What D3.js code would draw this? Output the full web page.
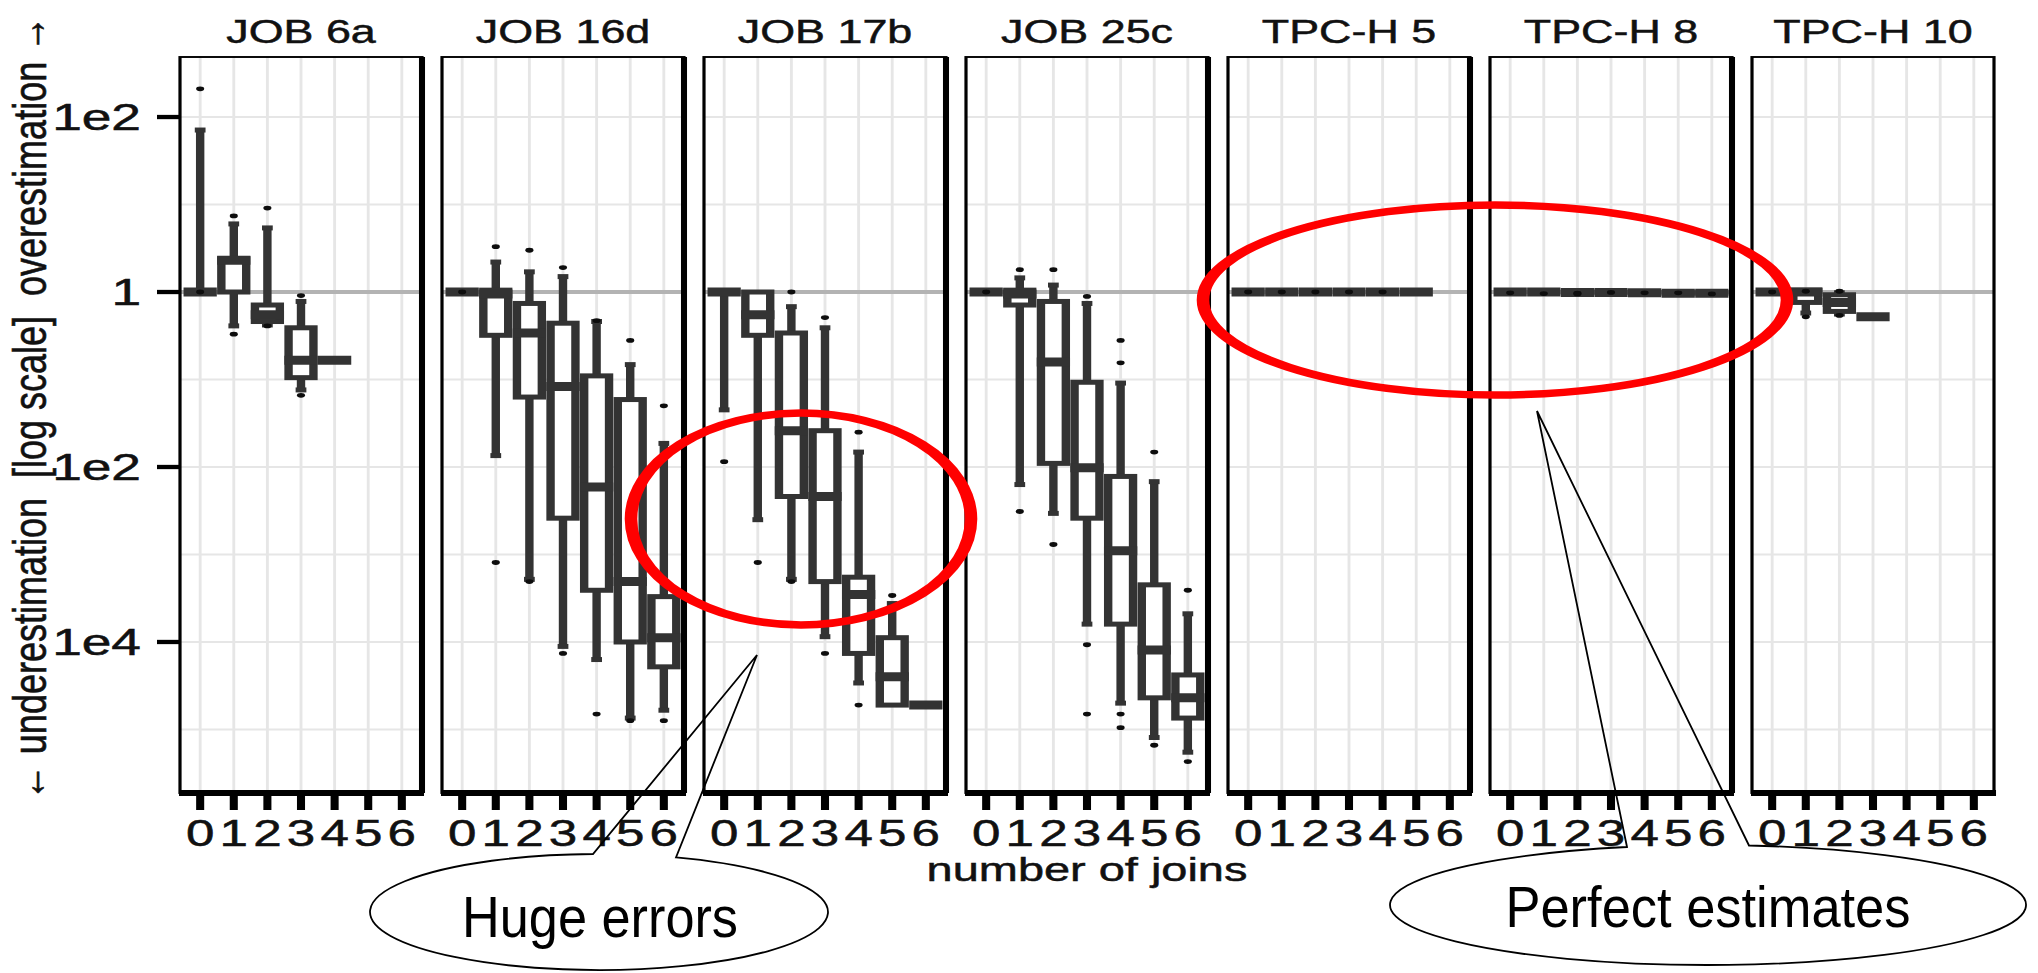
<!DOCTYPE html>
<html>
<head>
<meta charset="utf-8">
<script src="https://cdn.jsdelivr.net/npm/d3@7"></script>
<style>
  html, body { margin: 0; padding: 0; background: #fff; }
  svg { display: block; }
  text { font-family: "Liberation Sans", Arial, Helvetica, sans-serif; }
  .chart-text { fill: #111; stroke: #111; stroke-width: 0.5px; white-space: pre; }
</style>
</head>
<body>
<svg id="chart" width="2038" height="973"></svg>
<script>
// ---- data -------------------------------------------------------------
const queries = ["JOB 6a", "JOB 16d", "JOB 17b", "JOB 25c", "TPC-H 5", "TPC-H 8", "TPC-H 10"];
const joinCounts = [0, 1, 2, 3, 4, 5, 6];
const yTickValues = [1e2, 1, 1e-2, 1e-4];
const yTickLabels = ["1e2", "1", "1e2", "1e4"];
const gridValues = [1e2, 1e1, 1, 1e-1, 1e-2, 1e-3, 1e-4, 1e-5];

// box statistics of estimate / true cardinality:
// [joins, lower whisker, q1, median, q3, upper whisker]
const boxesJob6a = [
  [0, 1, 1, 1, 1, 71],
  [1, 0.41, 1.0, 2.3, 2.4, 6.0],
  [2, 0.42, 0.46, 0.55, 0.71, 5.4],
  [3, 0.076, 0.105, 0.166, 0.39, 0.78],
  [4, 0.166, 0.166, 0.166, 0.166, 0.166]
];
const boxesJob16d = [
  [0, 1, 1, 1, 1, 1],
  [1, 0.0135, 0.32, 0.95, 1.05, 2.2],
  [2, 5.2e-4, 0.063, 0.34, 0.74, 1.7],
  [3, 8.9e-5, 2.6e-3, 0.083, 0.44, 1.5],
  [4, 6.3e-5, 3.9e-4, 5.9e-3, 0.11, 0.46],
  [5, 1.35e-5, 1e-4, 4.9e-4, 0.059, 0.148],
  [6, 1.66e-5, 5.2e-5, 1.12e-4, 3.3e-4, 0.0186]
];
const boxesJob17b = [
  [0, 0.045, 1, 1, 1, 1],
  [1, 2.5e-3, 0.32, 0.55, 1, 1],
  [2, 5.2e-4, 4.6e-3, 0.026, 0.34, 0.68],
  [3, 1.15e-4, 4.9e-4, 4.6e-3, 0.026, 0.39],
  [4, 3.4e-5, 7.4e-5, 3.5e-4, 5.5e-4, 0.0148],
  [5, 1.9e-5, 1.9e-5, 4e-5, 1.12e-4, 2.75e-4],
  [6, 1.9e-5, 1.9e-5, 1.9e-5, 1.9e-5, 1.9e-5]
];
const boxesJob25c = [
  [0, 1, 1, 1, 1, 1],
  [1, 6.3e-3, 0.71, 0.95, 1.05, 1.45],
  [2, 2.95e-3, 0.011, 0.158, 0.78, 1.2],
  [3, 1.6e-4, 2.6e-3, 9.8e-3, 0.093, 0.74],
  [4, 2e-5, 1.6e-4, 1.1e-3, 7.8e-3, 0.091],
  [5, 8.1e-6, 2.3e-5, 8.1e-5, 4.5e-4, 6.8e-3],
  [6, 5.5e-6, 1.35e-5, 2.3e-5, 4.2e-5, 2.1e-4]
];
const boxesTpch5 = [
  [0, 1, 1, 1, 1, 1],
  [1, 1, 1, 1, 1, 1],
  [2, 1, 1, 1, 1, 1],
  [3, 1, 1, 1, 1, 1],
  [4, 1, 1, 1, 1, 1],
  [5, 1, 1, 1, 1, 1]
];
const boxesTpch8 = [
  [0, 1, 1, 1, 1, 1],
  [1, 1, 1, 1, 1, 1],
  [2, 0.99, 0.99, 0.99, 1, 1],
  [3, 0.99, 0.99, 0.99, 1, 1],
  [4, 0.98, 0.98, 0.98, 0.99, 0.99],
  [5, 0.97, 0.97, 0.97, 0.98, 0.98],
  [6, 0.97, 0.97, 0.97, 0.98, 0.98]
];
const boxesTpch10 = [
  [0, 1, 1, 1, 1, 1],
  [1, 0.575, 0.76, 1.0, 1.05, 1.05],
  [2, 0.56, 0.6, 0.76, 0.93, 0.98],
  [3, 0.52, 0.52, 0.52, 0.52, 0.52]
];

// extreme single estimates drawn as points: [joins, value]
const pointsJob6a = [[0, 210], [0, 1], [1, 7.4], [1, 0.33], [2, 9.1], [2, 0.41], [3, 0.91], [3, 0.066]];
const pointsJob16d = [[0, 1], [1, 3.3], [1, 8.1e-4], [2, 3.0], [2, 4.9e-4], [3, 1.9], [3, 7.4e-5],
  [4, 0.47], [4, 1.5e-5], [5, 0.28], [5, 1.26e-5], [6, 0.05], [6, 1.26e-5]];
const pointsJob17b = [[0, 0.0115], [1, 8.1e-4], [2, 1.0], [2, 4.9e-4], [3, 0.51], [3, 7.4e-5],
  [4, 0.025], [4, 1.9e-5], [5, 3.4e-4]];
const pointsJob25c = [[0, 1], [1, 1.8], [1, 3.1e-3], [2, 1.8], [2, 1.3e-3], [3, 0.89], [3, 9.3e-5],
  [3, 1.5e-5], [4, 0.28], [4, 0.155], [4, 1.5e-5], [4, 1.05e-5], [5, 0.0148], [5, 6.6e-6],
  [6, 3.9e-4], [6, 4.3e-6]];
const pointsTpch5 = [[0, 1], [1, 1], [2, 1], [3, 1], [4, 1]];
const pointsTpch8 = [[0, 0.98], [1, 0.96], [2, 0.97], [2, 0.95], [3, 0.99], [4, 0.98], [5, 0.98], [6, 0.95]];
const pointsTpch10 = [[0, 1], [1, 1.02], [1, 0.52], [2, 1.02], [2, 0.54]];

const boxSets = [boxesJob6a, boxesJob16d, boxesJob17b, boxesJob25c, boxesTpch5, boxesTpch8, boxesTpch10];
const pointSets = [pointsJob6a, pointsJob16d, pointsJob17b, pointsJob25c, pointsTpch5, pointsTpch8, pointsTpch10];

// ---- layout -----------------------------------------------------------
// Marks are drawn in a narrow frame and stretched horizontally by SX;
// text gets its own, milder horizontal stretch.
const SX = 1.68;
const nx = v => v / SX;
const panelTop = 57, panelBottom = 793;
const panelX0 = nx(180), panelW = nx(242), panelStep = nx(262);
const ink = "#333333";

const svg = d3.select("#chart");
const plot = svg.append("g").attr("transform", `scale(${SX},1)`);
const labels = svg.append("g");

// text placed at display coordinates, stretched around its anchor
function label(xDisp, yDisp, str, opts = {}) {
  const rot = opts.rotate ? ` rotate(${opts.rotate})` : "";
  return labels.append("text")
    .attr("class", "chart-text")
    .attr("transform", `translate(${xDisp},${yDisp}) scale(${opts.sx || 1.38},1)${rot}`)
    .attr("text-anchor", opts.anchor || "middle")
    .attr("dy", opts.dy || null)
    .attr("font-size", opts.size || 34)
    .text(str);
}

const y = d3.scaleLog()
  .domain([Math.pow(10, 2.686), Math.pow(10, -5.726)])
  .range([panelTop, panelBottom]);

queries.forEach((q, i) => {
  const left = panelX0 + i * panelStep;
  const x = d3.scaleLinear().domain([-0.6, 6.6]).range([left, left + panelW]);
  const unit = x(1) - x(0);
  const bw = unit * 0.74;
  const p = plot.append("g").attr("class", "panel");

  // grid
  p.selectAll("line.hgrid").data(gridValues).join("line")
    .attr("class", "hgrid")
    .attr("x1", left).attr("x2", left + panelW)
    .attr("y1", d => y(d)).attr("y2", d => y(d))
    .attr("stroke", "#e6e6e6").attr("stroke-width", 1.9);
  p.selectAll("line.vgrid").data(joinCounts).join("line")
    .attr("class", "vgrid")
    .attr("x1", d => x(d)).attr("x2", d => x(d))
    .attr("y1", panelTop).attr("y2", panelBottom)
    .attr("stroke", "#e6e6e6").attr("stroke-width", 1.7);

  // reference line at a perfect estimate
  p.append("line")
    .attr("x1", left).attr("x2", left + panelW)
    .attr("y1", y(1)).attr("y2", y(1))
    .attr("stroke", "#b3b3b3").attr("stroke-width", 4);

  const rows = boxSets[i].map(r => ({ j: r[0], lo: r[1], q1: r[2], med: r[3], q3: r[4], hi: r[5] }));

  // whiskers
  p.selectAll("line.wup").data(rows.filter(d => d.hi > d.q3)).join("line")
    .attr("class", "wup")
    .attr("x1", d => x(d.j)).attr("x2", d => x(d.j))
    .attr("y1", d => y(d.hi)).attr("y2", d => y(d.q3))
    .attr("stroke", ink).attr("stroke-width", 5);
  p.selectAll("line.wlo").data(rows.filter(d => d.lo < d.q1)).join("line")
    .attr("class", "wlo")
    .attr("x1", d => x(d.j)).attr("x2", d => x(d.j))
    .attr("y1", d => y(d.q1)).attr("y2", d => y(d.lo))
    .attr("stroke", ink).attr("stroke-width", 5);

  // whisker caps
  const caps = [];
  rows.forEach(d => {
    if (d.hi > d.q3) caps.push({ j: d.j, v: d.hi });
    if (d.lo < d.q1) caps.push({ j: d.j, v: d.lo });
  });
  p.selectAll("line.cap").data(caps).join("line")
    .attr("class", "cap")
    .attr("x1", d => x(d.j) - unit * 0.16).attr("x2", d => x(d.j) + unit * 0.16)
    .attr("y1", d => y(d.v)).attr("y2", d => y(d.v))
    .attr("stroke", ink).attr("stroke-width", 5);

  // boxes
  p.selectAll("rect.box").data(rows).join("rect")
    .attr("class", "box")
    .attr("x", d => x(d.j) - bw / 2).attr("width", bw)
    .attr("y", d => y(d.q3)).attr("height", d => y(d.q1) - y(d.q3))
    .attr("fill", "#fff").attr("stroke", ink).attr("stroke-width", 5);

  // medians
  p.selectAll("line.med").data(rows).join("line")
    .attr("class", "med")
    .attr("x1", d => x(d.j) - bw / 2 - 2.5).attr("x2", d => x(d.j) + bw / 2 + 2.5)
    .attr("y1", d => y(d.med)).attr("y2", d => y(d.med))
    .attr("stroke", ink).attr("stroke-width", 9);

  // extreme points
  p.selectAll("circle.pt").data(pointSets[i]).join("circle")
    .attr("class", "pt")
    .attr("cx", d => x(d[0])).attr("cy", d => y(d[1])).attr("r", 2.4)
    .attr("fill", "#0d0d0d");

  // panel frame
  p.append("rect")
    .attr("x", left).attr("y", panelTop)
    .attr("width", panelW).attr("height", panelBottom - panelTop)
    .attr("fill", "none").attr("stroke", "#000").attr("stroke-width", 1.9);
  if (i < queries.length - 1) {
    p.append("line")
      .attr("x1", left + panelW).attr("x2", left + panelW)
      .attr("y1", panelTop).attr("y2", panelBottom)
      .attr("stroke", "#000").attr("stroke-width", 3.6);
  }
  p.append("line")
    .attr("x1", left - 0.6).attr("x2", left + panelW + 1.2)
    .attr("y1", panelBottom).attr("y2", panelBottom)
    .attr("stroke", "#000").attr("stroke-width", 6);

  // x axis ticks and labels
  p.selectAll("line.xtick").data(joinCounts).join("line")
    .attr("class", "xtick")
    .attr("x1", d => x(d)).attr("x2", d => x(d))
    .attr("y1", panelBottom).attr("y2", panelBottom + 17)
    .attr("stroke", "#000").attr("stroke-width", 4.8);
  joinCounts.forEach(j => label(x(j) * SX, 846, String(j), { size: 36, sx: 1.42 }));

  // facet title
  label((left + panelW / 2) * SX, 43, q, { size: 34, sx: 1.32 });
});

// y axis on the first panel
plot.append("g").selectAll("line").data(yTickValues).join("line")
  .attr("x1", nx(157)).attr("x2", panelX0)
  .attr("y1", d => y(d)).attr("y2", d => y(d))
  .attr("stroke", "#000").attr("stroke-width", 4.3);
yTickValues.forEach((v, k) => label(141, y(v), yTickLabels[k], { anchor: "end", dy: "0.36em", size: 36, sx: 1.48 }));

// axis titles
label(46, 408, "\u2190 underestimation \u00a0[log scale]\u00a0 overestimation \u2192", { rotate: -90, size: 36, sx: 1.3 });
label((panelX0 + (queries.length * panelStep - (panelStep - panelW)) / 2) * SX, 881, "number of joins");

// highlight rings
const rings = [
  { cx: 801, cy: 519, rx: 170, ry: 106 },
  { cx: 1495, cy: 300, rx: 292, ry: 95 }
];
plot.selectAll("ellipse.ring").data(rings).join("ellipse")
  .attr("class", "ring")
  .attr("cx", d => nx(d.cx)).attr("cy", d => d.cy)
  .attr("rx", d => nx(d.rx)).attr("ry", d => d.ry)
  .attr("fill", "none").attr("stroke", "#ff0000").attr("stroke-width", 7.5);

// speech-bubble callouts
const callouts = [
  { text: "Huge errors", cx: 599, cy: 912, rx: 229, ry: 58, tipX: 757, tipY: 655, ax: 593, bx: 676, tx: 600, ty: 937, tw: 276 },
  { text: "Perfect estimates", cx: 1708, cy: 905, rx: 318, ry: 60, tipX: 1537, tipY: 411, ax: 1627, bx: 1749, tx: 1708, ty: 927, tw: 405 }
];
const onTop = (c, px) => c.cy - c.ry * Math.sqrt(1 - Math.pow((px - c.cx) / c.rx, 2));
const bubbles = svg.append("g");
callouts.forEach(c => {
  const ay = onTop(c, c.ax), by = onTop(c, c.bx);
  bubbles.append("path")
    .attr("d", `M${c.tipX},${c.tipY}L${c.bx},${by}A${c.rx},${c.ry} 0 1 1 ${c.ax},${ay}Z`)
    .attr("fill", "none").attr("stroke", "#000").attr("stroke-width", 1.8);
  bubbles.append("text")
    .attr("x", c.tx).attr("y", c.ty)
    .attr("text-anchor", "middle")
    .attr("font-size", 57).attr("fill", "#000")
    .attr("textLength", c.tw).attr("lengthAdjust", "spacingAndGlyphs")
    .text(c.text);
});
</script>
</body>
</html>
